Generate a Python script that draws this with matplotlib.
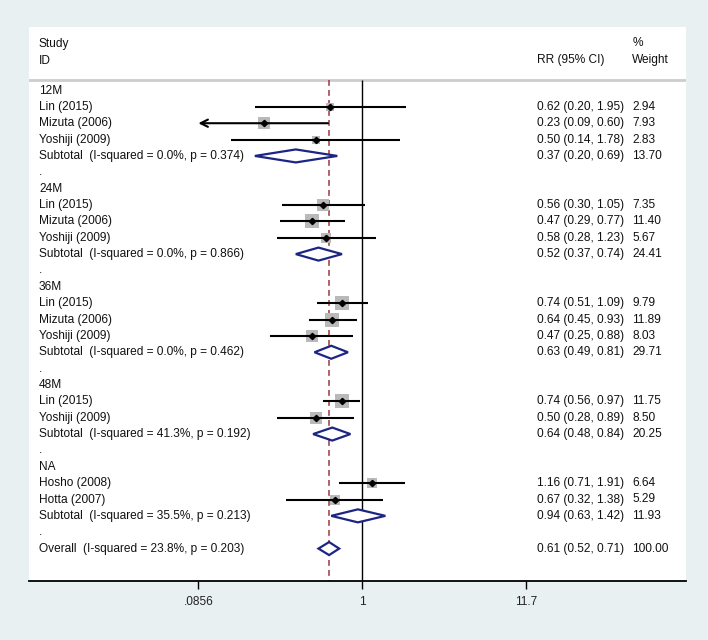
import numpy as np
import matplotlib.pyplot as plt
from matplotlib.patches import Polygon
import matplotlib.transforms as mtransforms
from matplotlib.ticker import NullLocator

plt.rcParams['font.family'] = ['Liberation Sans', 'DejaVu Sans']

# ---- data ----
groups = ['12M', '24M', '36M', '48M', 'NA']
study_names = ['Lin (2015)', 'Mizuta (2006)', 'Yoshiji (2009)',
               'Lin (2015)', 'Mizuta (2006)', 'Yoshiji (2009)',
               'Lin (2015)', 'Mizuta (2006)', 'Yoshiji (2009)',
               'Lin (2015)', 'Yoshiji (2009)',
               'Hosho (2008)', 'Hotta (2007)']
study_group = [0, 0, 0, 1, 1, 1, 2, 2, 2, 3, 3, 4, 4]
rr = [0.62, 0.23, 0.50, 0.56, 0.47, 0.58, 0.74, 0.64, 0.47, 0.74, 0.50, 1.16, 0.67]
lo = [0.20, 0.085, 0.14, 0.30, 0.29, 0.28, 0.51, 0.45, 0.25, 0.56, 0.28, 0.71, 0.32]
hi = [1.95, 0.60, 1.78, 1.05, 0.77, 1.23, 1.09, 0.93, 0.88, 0.97, 0.89, 1.91, 1.38]
weight = [2.94, 7.93, 2.83, 7.35, 11.40, 5.67, 9.79, 11.89, 8.03, 11.75, 8.50, 6.64, 5.29]

sub_rr = [0.37, 0.52, 0.63, 0.64, 0.94]
sub_lo = [0.20, 0.37, 0.49, 0.48, 0.63]
sub_hi = [0.69, 0.74, 0.81, 0.84, 1.42]
sub_weight = [13.70, 24.41, 29.71, 20.25, 11.93]
sub_i2 = [0.0, 0.0, 0.0, 41.3, 35.5]
sub_p = [0.374, 0.866, 0.462, 0.192, 0.213]

overall_rr, overall_lo, overall_hi = 0.61, 0.52, 0.71
overall_weight = 100.00
overall_i2, overall_p = 23.8, 0.203

axis_ticks = [0.0856, 1, 11.7]
axis_labels = ['.0856', '1', '11.7']

# ---- style ----
BG = '#e9f0f2'
NAVY = '#1c2584'
MAROON = '#a5464d'
BOX = '#b9b9b9'
FS = 8.6

fig = plt.figure(figsize=(7.08, 6.40), dpi=100, facecolor=BG)
ax = fig.add_axes([29 / 708, 1 - 581 / 640, 657 / 708, 554 / 640])
ax.set_facecolor('white')
ax.set_xscale('log')
px_per_dec = 153.3
ax.set_xlim(10 ** ((29 - 362) / px_per_dec), 10 ** ((686 - 362) / px_per_dec))
ax.set_ylim(581, 27)

y0, dy = 90.5, 16.36
tr = mtransforms.blended_transform_factory(ax.transAxes, ax.transData)
x_name, x_ci, x_wt = 0.0152, 0.773, 0.918


def txt(x, y, s):
    ax.text(x, y, s, transform=tr, fontsize=FS, va='center', ha='left',
            color='#111111', clip_on=False)


def ci_text(r, l, h):
    return f'{r:.2f} ({l:.2f}, {h:.2f})'


def diamond(r, l, h, y):
    hh = 6.5
    poly = Polygon([(l, y), (r, y - hh), (h, y), (r, y + hh)], closed=True,
                   facecolor='white', edgecolor=NAVY, lw=1.6, zorder=4)
    ax.add_patch(poly)


# header
txt(x_name, 43.5, 'Study')
txt(x_name, 60.5, 'ID')
txt(x_ci, 60.5, 'RR (95% CI)')
txt(x_wt, 43.5, '%')
txt(x_wt, 60.5, 'Weight')
ax.axhline(80, color='#cdcdcd', lw=2, zorder=1)

# reference lines
ax.vlines(1, 80, 581, colors='black', lw=1.0, zorder=2)
ax.vlines(overall_rr, 80, 581, colors=MAROON, lw=1.2,
          linestyles=(0, (3.5, 2.5)), zorder=2)

xmin_clip, xmax_clip = axis_ticks[0], axis_ticks[-1]
row = 0
for g, gname in enumerate(groups):
    txt(x_name, y0 + dy * row, gname)
    row += 1
    for i in [k for k, sg in enumerate(study_group) if sg == g]:
        y = y0 + dy * row
        side_px = 4.2 * np.sqrt(weight[i])
        ax.scatter([rr[i]], [y], marker='s', s=(side_px * 0.72) ** 2,
                   color=BOX, linewidths=0, zorder=3)
        l_c = max(lo[i], xmin_clip)
        h_c = min(hi[i], xmax_clip)
        if lo[i] < xmin_clip:
            ax.annotate('', xy=(l_c, y), xytext=(h_c, y),
                        arrowprops=dict(arrowstyle='->', lw=1.5, color='black',
                                        mutation_scale=13, shrinkA=0, shrinkB=0),
                        zorder=5)
        else:
            ax.plot([l_c, h_c], [y, y], color='black', lw=1.5, zorder=5,
                    solid_capstyle='butt')
        ax.plot([rr[i]], [y], marker='D', ms=3.2, color='black', zorder=6)
        txt(x_name, y, study_names[i])
        txt(x_ci, y, ci_text(rr[i], lo[i], hi[i]))
        txt(x_wt, y, f'{weight[i]:.2f}')
        row += 1
    y = y0 + dy * row
    diamond(sub_rr[g], sub_lo[g], sub_hi[g], y)
    txt(x_name, y, f'Subtotal  (I-squared = {sub_i2[g]:.1f}%, p = {sub_p[g]:.3f})')
    txt(x_ci, y, ci_text(sub_rr[g], sub_lo[g], sub_hi[g]))
    txt(x_wt, y, f'{sub_weight[g]:.2f}')
    row += 1
    txt(x_name, y0 + dy * row, '.')
    row += 1

y = y0 + dy * row
diamond(overall_rr, overall_lo, overall_hi, y)
txt(x_name, y, f'Overall  (I-squared = {overall_i2:.1f}%, p = {overall_p:.3f})')
txt(x_ci, y, ci_text(overall_rr, overall_lo, overall_hi))
txt(x_wt, y, f'{overall_weight:.2f}')

# axes
for s in ['top', 'left', 'right']:
    ax.spines[s].set_visible(False)
ax.spines['bottom'].set_linewidth(1.3)
ax.set_yticks([])
ax.set_xticks(axis_ticks)
ax.set_xticklabels(axis_labels)
ax.xaxis.set_minor_locator(NullLocator())
ax.tick_params(axis='x', length=6, width=1.0, pad=5, labelsize=FS,
               labelcolor='#222222')

fig.savefig('out.png', dpi=100, facecolor=BG)
